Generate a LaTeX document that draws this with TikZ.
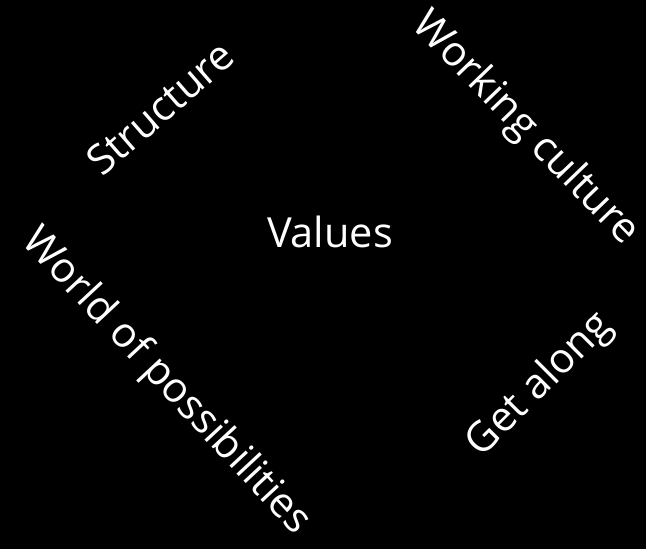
\documentclass[tikz,border=0pt]{standalone}
\usepackage{fontspec}
\setmainfont{Open Sans}
\begin{document}
\begin{tikzpicture}[x=1pt,y=-1pt,
  word/.style={text=white, font=\fontsize{41.5}{45}\selectfont, inner sep=0pt}]
\fill[black] (0,0) rectangle (646,549);
\useasboundingbox (0,0) rectangle (646,549);
\node[word] (values) at (330,232) {Values};
\node[word, rotate=41] (structure) at (160,108) {Structure};
\node[word, rotate=-46] (culture) at (525,129) {Working culture};
\node[word, rotate=-47] (world) at (166,382) {World of possibilities};
\node[word, rotate=45] (along) at (540,385) {Get along};
\end{tikzpicture}
\end{document}
